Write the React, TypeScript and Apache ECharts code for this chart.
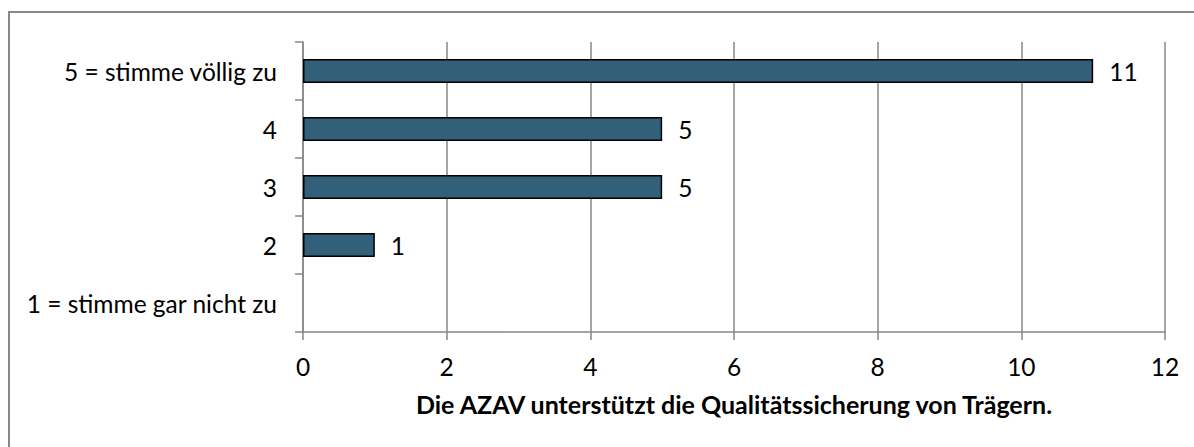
import React, { useEffect, useRef } from "react";
import * as echarts from "echarts";

const categories = ["1 = stimme gar nicht zu", "2", "3", "4", "5 = stimme völlig zu"];
const values = [0, 1, 5, 5, 11];
const xTicks = { min: 0, max: 12, interval: 2 };
const axisTitle = "Die AZAV unterstützt die Qualitätssicherung von Trägern.";

const FONT = "Lato";
const GRAY = "#878787";
const FS = 24.5;

export default function App() {
  const ref = useRef<HTMLDivElement>(null);
  useEffect(() => {
    if (!ref.current) return;
    const chart = echarts.init(ref.current, null, { renderer: "svg" });
    chart.setOption({
      animation: false,
      backgroundColor: "#ffffff",
      textStyle: { fontFamily: FONT },
      graphic: [
        {
          type: "rect",
          shape: { x: 9, y: 12, width: 1300, height: 600 },
          style: { fill: "none", stroke: GRAY, lineWidth: 2 },
          silent: true,
        },
      ],
      grid: { left: 303, right: 29, top: 42, bottom: 115, containLabel: false },
      xAxis: {
        type: "value",
        min: xTicks.min,
        max: xTicks.max,
        interval: xTicks.interval,
        axisLine: { show: true, lineStyle: { color: GRAY, width: 1.5 } },
        axisTick: { show: true, inside: false, length: 8, lineStyle: { color: GRAY, width: 1.5 } },
        splitLine: { show: true, lineStyle: { color: GRAY, width: 1.5 } },
        axisLabel: { color: "#000", fontSize: FS, fontFamily: FONT, margin: 22 },
        name: axisTitle,
        nameLocation: "middle",
        nameGap: 59,
        nameTextStyle: { color: "#000", fontSize: 25, fontWeight: "bold", fontFamily: FONT },
      },
      yAxis: {
        type: "category",
        data: categories,
        axisLine: { show: true, lineStyle: { color: GRAY, width: 1.5 } },
        axisTick: { show: true, inside: false, length: 8, lineStyle: { color: GRAY, width: 1.5 } },
        splitLine: { show: false },
        axisLabel: { color: "#000", fontSize: FS, fontFamily: FONT, margin: 26 },
      },
      series: [
        {
          type: "bar",
          data: values.map((v) => (v === 0 ? "-" : v)),
          barWidth: 24,
          itemStyle: { color: "#336079", borderColor: "#000", borderWidth: 1.5 },
          label: {
            show: true,
            position: "right",
            distance: 16,
            color: "#000",
            fontSize: FS,
            fontFamily: FONT,
          },
        },
      ],
    });
    return () => chart.dispose();
  }, []);
  return (
    <div
      ref={ref}
      style={{ position: "fixed", left: 0, top: 0, width: 1194, height: 447 }}
    />
  );
}
